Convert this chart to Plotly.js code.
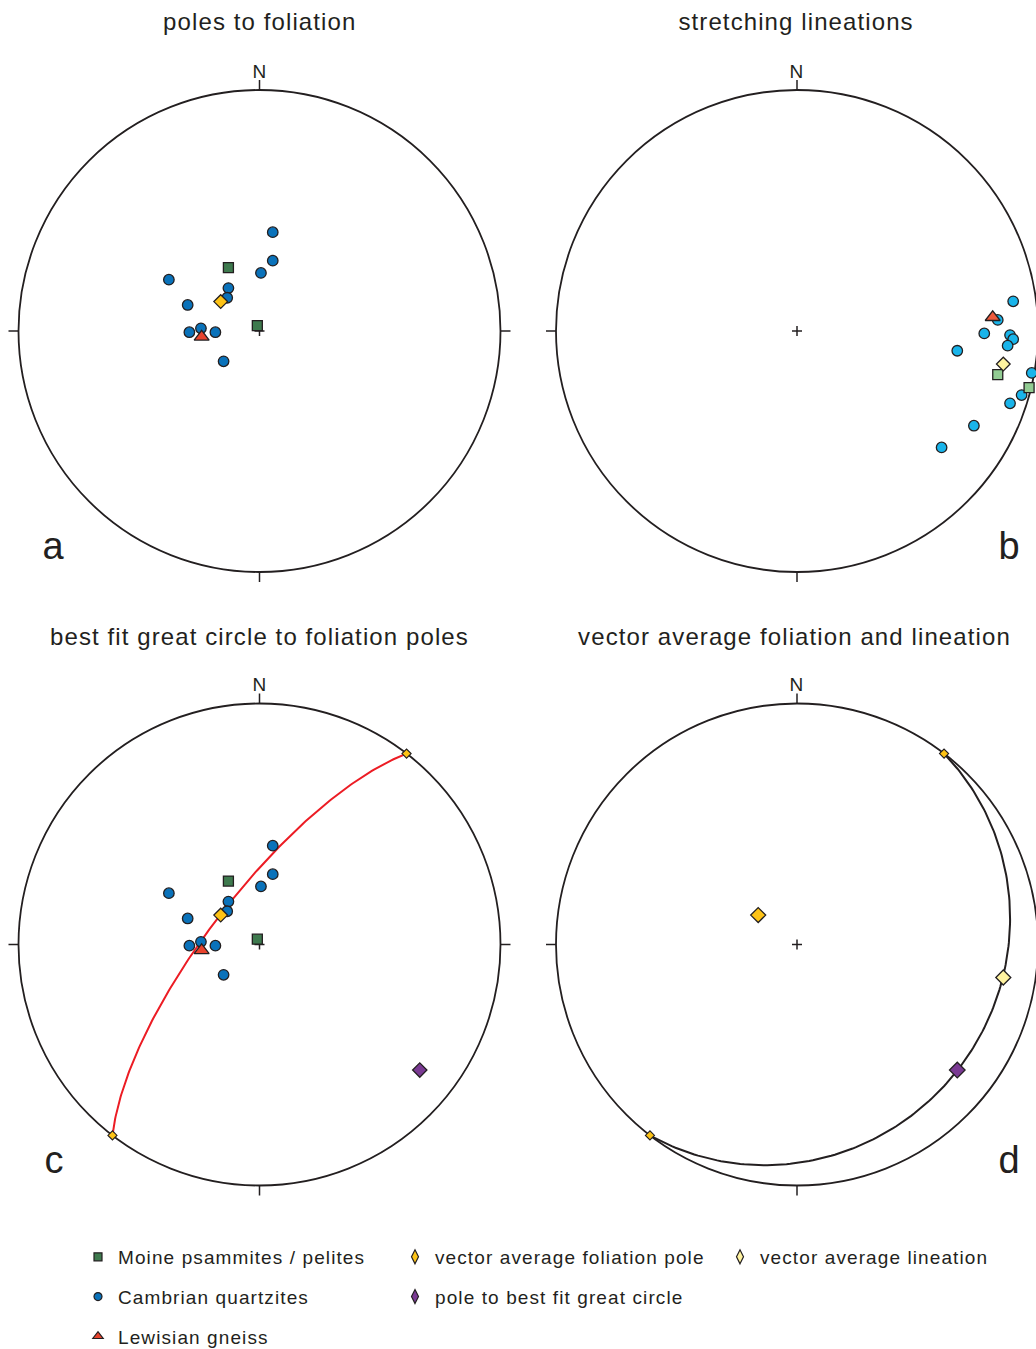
<!DOCTYPE html>
<html><head><meta charset="utf-8">
<script src="https://cdn.plot.ly/plotly-3.0.1.min.js"></script>
<style>
html,body{margin:0;padding:0;background:#fff;width:1036px;height:1349px;overflow:hidden;}
#chart{display:block;width:1036px;height:1349px;overflow:hidden;}
#chart text{letter-spacing:1.1px;}
#chart .scrollbox{clip-path:none !important;}
</style></head><body><div id="chart"></div>
<script>
// ---- DATA (lower-hemisphere equal-area coordinates, unit = primitive radius; x = east, y = north)
// a / c : poles to foliation
const moineX = [-0.129, -0.009];
const moineY = [0.263, 0.022];
const cambX = [0.055, 0.055, 0.006, -0.376, -0.129, -0.134, -0.298, -0.291, -0.243, -0.183, -0.149];
const cambY = [0.410, 0.292, 0.241, 0.213, 0.178, 0.138, 0.108, -0.005, 0.011, -0.005, -0.126];
const lewX = [-0.240];
const lewY = [-0.024];
const avgFolPoleX = [-0.161];
const avgFolPoleY = [0.122];
// b : stretching lineations
const linCambX = [0.897, 0.833, 0.777, 0.884, 0.897, 0.874, 0.665, 0.974, 0.932, 0.884, 0.734, 0.600];
const linCambY = [0.123, 0.046, -0.010, -0.017, -0.034, -0.061, -0.082, -0.174, -0.266, -0.300, -0.393, -0.483];
const linMoineX = [0.833, 0.963];
const linMoineY = [-0.181, -0.235];
const linLewX = [0.812];
const linLewY = [0.057];
const avgLinX = [0.856];
const avgLinY = [-0.137];
// pole to best fit great circle
const betaX = [0.665];
const betaY = [-0.521];
// planes (strike, right-hand rule; dip): [best fit girdle, vector average foliation]
const planeStrike = [217.6, 37.6];
const planeDip = [73.4, 16.5];
// texts
const panelTitles = ['poles to foliation', 'stretching lineations', 'best fit great circle to foliation poles', 'vector average foliation and lineation'];
const panelLetters = ['a', 'b', 'c', 'd'];

// ---- projection helpers
const D2R = Math.PI / 180;
function eqArea(trend, plunge) {
  const r = Math.SQRT2 * Math.sin((90 - plunge) / 2 * D2R);
  return [r * Math.sin(trend * D2R), r * Math.cos(trend * D2R)];
}
function greatCircle(strike, dip) {
  const s = strike * D2R, dd = (strike + 90) * D2R, d = dip * D2R;
  const S = [Math.sin(s), Math.cos(s), 0];
  const Dv = [Math.sin(dd) * Math.cos(d), Math.cos(dd) * Math.cos(d), Math.sin(d)];
  const xs = [], ys = [];
  for (let t = 0; t <= 180; t += 1) {
    const c = Math.cos(t * D2R), sn = Math.sin(t * D2R);
    const v = [c * S[0] + sn * Dv[0], c * S[1] + sn * Dv[1], c * S[2] + sn * Dv[2]];
    const pl = Math.asin(Math.max(-1, Math.min(1, v[2]))) / D2R;
    const tr = Math.atan2(v[0], v[1]) / D2R;
    const p = eqArea(tr, pl);
    xs.push(p[0]); ys.push(p[1]);
  }
  return {xs, ys};
}
function strikeEnds(strike) {
  const p1 = eqArea(strike, 0), p2 = eqArea(strike + 180, 0);
  return {xs: [p1[0], p2[0]], ys: [p1[1], p2[1]]};
}

// ---- layout geometry
const W = 1036, H = 1349, R = 241, HALF = 259;
const cxs = [259.5, 797, 259.5, 797], cys = [331, 331, 944.5, 944.5];
const titleXs = [259.5, 795.5, 259.5, 794];
const PX = p => p / W, PY = p => 1 - p / H;
const FONT = 'Liberation Sans, Arial, Helvetica, sans-serif';
const INK = '#231f20';

const layout = {
  width: W, height: H, margin: {l: 0, r: 0, t: 0, b: 0, autoexpand: false},
  paper_bgcolor: '#fff', plot_bgcolor: 'rgba(0,0,0,0)',
  showlegend: true, shapes: [], annotations: [],
  font: {family: FONT, color: INK}
};
const axNames = ['', '2', '3', '4'];
for (let i = 0; i < 4; i++) {
  const cx = cxs[i], cy = cys[i];
  const xl = Math.max(0, cx - HALF), xr = Math.min(W, cx + HALF);
  layout['xaxis' + axNames[i]] = {domain: [PX(xl), PX(xr)], range: [(xl - cx) / R, (xr - cx) / R], visible: false, fixedrange: true, anchor: 'y' + axNames[i]};
  layout['yaxis' + axNames[i]] = {domain: [PY(cy + HALF), PY(cy - HALF)], range: [-HALF / R, HALF / R], visible: false, fixedrange: true, anchor: 'x' + axNames[i]};
  const xr_ = 'x' + axNames[i], yr_ = 'y' + axNames[i];
  const ln = {color: INK, width: 1.8};
  layout.shapes.push({type: 'circle', xref: xr_, yref: yr_, x0: -1, x1: 1, y0: -1, y1: 1, line: ln, layer: 'below'});
  const tk = 10 / R, pl = 5 / R, tl = {color: INK, width: 1.5};
  layout.shapes.push({type: 'line', xref: xr_, yref: yr_, x0: 0, x1: 0, y0: 1, y1: 1 + tk, line: tl, layer: 'below'});
  layout.shapes.push({type: 'line', xref: xr_, yref: yr_, x0: 0, x1: 0, y0: -1, y1: -1 - tk, line: tl, layer: 'below'});
  layout.shapes.push({type: 'line', xref: xr_, yref: yr_, x0: 1, x1: 1 + tk, y0: 0, y1: 0, line: tl, layer: 'below'});
  layout.shapes.push({type: 'line', xref: xr_, yref: yr_, x0: -1, x1: -1 - tk, y0: 0, y1: 0, line: tl, layer: 'below'});
  layout.shapes.push({type: 'line', xref: xr_, yref: yr_, x0: -pl, x1: pl, y0: 0, y1: 0, line: tl, layer: 'below'});
  layout.shapes.push({type: 'line', xref: xr_, yref: yr_, x0: 0, x1: 0, y0: -pl, y1: pl, line: tl, layer: 'below'});
  // titles, N, letters
  const titleY = i < 2 ? 21.7 : 636.2;
  layout.annotations.push({text: panelTitles[i], xref: 'paper', yref: 'paper', x: PX(titleXs[i]), y: PY(titleY), xanchor: 'center', yanchor: 'middle', showarrow: false, font: {size: 24, color: INK, family: FONT}});
  layout.annotations.push({text: 'N', xref: 'paper', yref: 'paper', x: PX(cx), y: PY(cy - 259.8), xanchor: 'center', yanchor: 'middle', showarrow: false, font: {size: 19, color: INK, family: FONT}});
  const lx = (i % 2 === 0) ? 54 : 1009, ly = i < 2 ? 546 : 1160;
  layout.annotations.push({text: panelLetters[i], xref: 'paper', yref: 'paper', x: PX(lx), y: PY(ly), xanchor: 'center', yanchor: 'middle', showarrow: false, font: {size: 38, color: INK, family: FONT}});
}

const COL = {
  moine: '#3e7a4e', camb: '#0a72ba', lew: '#e8432d', folPole: '#fdc316',
  linCamb: '#19b4ea', linMoine: '#92cc93', linLew: '#ee5a3c', avgLin: '#fff3a0', beta: '#7a3a93', girdle: '#ec1c24'
};
function pts(xs, ys, ax, symbol, size, color, lw) {
  return {type: 'scatter', mode: 'markers', x: xs, y: ys, xaxis: 'x' + ax, yaxis: 'y' + ax,
    marker: {symbol: symbol, size: size, color: color, line: {color: INK, width: lw === undefined ? 1.3 : lw}},
    showlegend: false, hoverinfo: 'skip', cliponaxis: true};
}
function line(xs, ys, ax, color, w) {
  return {type: 'scatter', mode: 'lines', x: xs, y: ys, xaxis: 'x' + ax, yaxis: 'y' + ax,
    line: {color: color, width: w}, showlegend: false, hoverinfo: 'skip'};
}
const traces = [];
// a
traces.push(pts(cambX, cambY, '', 'circle', 10.5, COL.camb));
traces.push(pts(moineX, moineY, '', 'square', 10, COL.moine));
traces.push(pts(lewX, lewY, '', 'triangle-up', 13, COL.lew));
traces.push(pts(avgFolPoleX, avgFolPoleY, '', 'diamond', 10.5, COL.folPole));
// b
traces.push(pts(linCambX, linCambY, '2', 'circle', 10.5, COL.linCamb));
traces.push(pts(linMoineX, linMoineY, '2', 'square', 10, COL.linMoine));
traces.push(pts(linLewX, linLewY, '2', 'triangle-up', 13, COL.linLew));
traces.push(pts(avgLinX, avgLinY, '2', 'diamond', 10.5, COL.avgLin));
// c
const gc0 = greatCircle(planeStrike[0], planeDip[0]);
traces.push(line(gc0.xs, gc0.ys, '3', COL.girdle, 2));
traces.push(pts(cambX, cambY, '3', 'circle', 10.5, COL.camb));
traces.push(pts(moineX, moineY, '3', 'square', 10, COL.moine));
traces.push(pts(lewX, lewY, '3', 'triangle-up', 13, COL.lew));
traces.push(pts(avgFolPoleX, avgFolPoleY, '3', 'diamond', 10.5, COL.folPole));
const se0 = strikeEnds(planeStrike[0]);
traces.push(pts(se0.xs, se0.ys, '3', 'diamond', 7, COL.folPole, 1.1));
traces.push(pts(betaX, betaY, '3', 'diamond', 11, COL.beta));
// d
const gc1 = greatCircle(planeStrike[1], planeDip[1]);
traces.push(line(gc1.xs, gc1.ys, '4', INK, 2));
const se1 = strikeEnds(planeStrike[1]);
traces.push(pts(se1.xs, se1.ys, '4', 'diamond', 7, COL.folPole, 1.1));
traces.push(pts(avgFolPoleX, avgFolPoleY, '4', 'diamond', 11.5, COL.folPole));
traces.push(pts(avgLinX, avgLinY, '4', 'diamond', 11.5, COL.avgLin));
traces.push(pts(betaX, betaY, '4', 'diamond', 12, COL.beta));

// legend entries
function leg(name, legendId, symbol, size, color) {
  return {type: 'scatter', mode: 'markers', x: [null], y: [null], name: name, legend: legendId, legendgroup: name,
    marker: {symbol: symbol, size: size, color: color, line: {color: INK, width: 1.2}}, showlegend: true, hoverinfo: 'skip'};
}
traces.push(leg('Moine psammites / pelites', 'legend', 'square', 8, COL.moine));
traces.push(leg('Cambrian quartzites', 'legend', 'circle', 8, COL.camb));
traces.push(leg('Lewisian gneiss', 'legend', 'triangle-up', 9, COL.lew));
traces.push(leg('vector average foliation pole', 'legend2', 'diamond-tall', 10, COL.folPole));
traces.push(leg('pole to best fit great circle', 'legend2', 'diamond-tall', 10, COL.beta));
traces.push(leg('vector average lineation', 'legend3', 'diamond-tall', 10, COL.avgLin));

const legBase = {yanchor: 'top', xanchor: 'left', y: PY(1238), bgcolor: 'rgba(0,0,0,0)', borderwidth: 0,
  font: {family: FONT, size: 19, color: INK}, tracegroupgap: 12, itemsizing: 'trace', orientation: 'v'};
layout.legend = Object.assign({}, legBase, {x: PX(78)});
layout.legend2 = Object.assign({}, legBase, {x: PX(395)});
layout.legend3 = Object.assign({}, legBase, {x: PX(720)});

Plotly.newPlot('chart', traces, layout, {staticPlot: true, displayModeBar: false});
</script></body></html>
